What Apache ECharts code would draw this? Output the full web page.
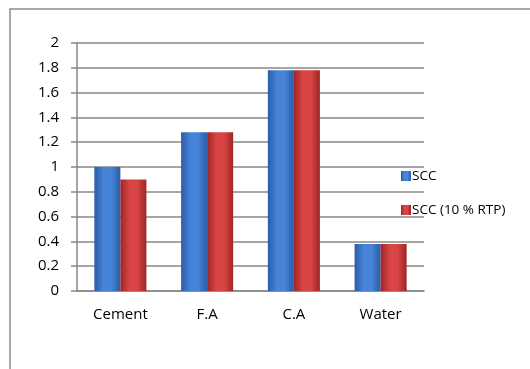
<!DOCTYPE html>
<html lang="en">
<head>
    <meta charset="UTF-8">
    <title>SCC</title>
    <script src="https://cdn.jsdelivr.net/npm/echarts@6/dist/echarts.min.js"></script>
    <style>
        body{
            margin: 0;
            background: #fff;
        }
        #chart{
            width: 530px;
            height: 369px;
        }
    </style>
</head>
<body>
<div id="chart"></div>
<script>
    // data
    var categories = ['Cement', 'F.A', 'C.A', 'Water'];
    var sccValues = [1.0, 1.28, 1.78, 0.38];
    var rtpValues = [0.9, 1.28, 1.78, 0.38];
    var seriesNames = ['SCC', 'SCC (10 % RTP)'];

    function barColor(edge, mid){
        return new echarts.graphic.LinearGradient(0, 0, 1, 0, [
            {offset: 0, color: edge},
            {offset: 0.35, color: mid},
            {offset: 0.65, color: mid},
            {offset: 1, color: edge}
        ]);
    }

    var myChart = echarts.init(document.getElementById('chart'));
    myChart.setOption({
        animation: false,
        textStyle: {fontFamily: 'Open Sans', color: '#000'},
        graphic: [{
            type: 'rect',
            shape: {x: 10, y: 9, width: 600, height: 500},
            style: {fill: 'none', stroke: '#8c8c8c', lineWidth: 1.5}
        }],
        grid: {left: 77, right: 106, top: 43, bottom: 78},
        legend: {
            orient: 'vertical',
            left: 396,
            top: 164,
            itemWidth: 10,
            itemHeight: 10,
            itemGap: 20,
            icon: 'rect',
            textStyle: {fontSize: 13.5, color: '#000', padding: [0, 0, 0, -4]},
            data: seriesNames
        },
        xAxis: {
            type: 'category',
            data: categories,
            axisLine: {lineStyle: {color: '#888', width: 1.5}},
            axisTick: {length: 6, lineStyle: {color: '#888', width: 1.5}},
            axisLabel: {fontSize: 15, color: '#000', margin: 16}
        },
        yAxis: {
            type: 'value',
            min: 0,
            max: 2,
            interval: 0.2,
            axisLine: {show: true, lineStyle: {color: '#888', width: 1.5}},
            axisTick: {show: true, length: 6, lineStyle: {color: '#888', width: 1.5}},
            axisLabel: {fontSize: 15, color: '#000', margin: 18},
            splitLine: {lineStyle: {color: '#888', width: 1.5}}
        },
        series: [{
            name: seriesNames[0],
            type: 'bar',
            data: sccValues,
            barGap: '0%',
            barCategoryGap: '40%',
            itemStyle: {color: barColor('#2b5ca8', '#4584d6')}
        }, {
            name: seriesNames[1],
            type: 'bar',
            data: rtpValues,
            itemStyle: {color: barColor('#9e2626', '#d94444')}
        }]
    });
</script>
</body>
</html>
